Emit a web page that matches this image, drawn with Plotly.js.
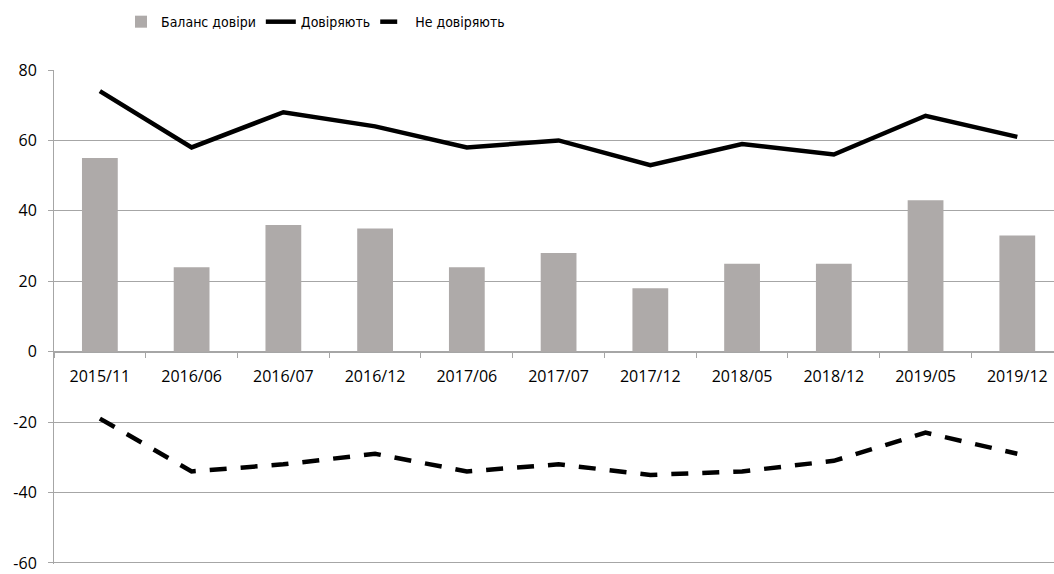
<!DOCTYPE html>
<html>
<head>
<meta charset="utf-8">
<script src="https://cdn.plot.ly/plotly-3.0.1.min.js"></script>
<style>html,body{margin:0;padding:0;background:#fff;}#chart{width:1054px;height:574px;}</style>
</head>
<body>
<div id="chart"></div>
<script>
const categories = ["2015/11","2016/06","2016/07","2016/12","2017/06","2017/07","2017/12","2018/05","2018/12","2019/05","2019/12"];
const balance = [55, 24, 36, 35, 24, 28, 18, 25, 25, 43, 33];
const trust = [74, 58, 68, 64, 58, 60, 53, 59, 56, 67, 61];
const distrust = [-19, -34, -32, -29, -34, -32, -35, -34, -31, -23, -29];
const seriesNames = ["Баланс довіри", "Довіряють", "Не довіряють"];
const yTicks = [-60, -40, -20, 0, 20, 40, 60, 80];
const yTickText = ["-60", "-40", "-20", "0", "20", "40", "60", "80"];

const grid = "#a6a6a6";
const axisFont = {family: "Open Sans, Noto Sans, sans-serif", size: 16, color: "#000"};

const traces = [
  {type: "bar", name: seriesNames[0], x: categories, y: balance,
   marker: {color: "#aeaaa9"}, width: 0.39},
  {type: "scatter", mode: "lines", name: seriesNames[1], x: categories, y: trust,
   line: {color: "#000", width: 4.5}},
  {type: "scatter", mode: "lines", name: seriesNames[2], x: categories, y: distrust,
   line: {color: "#000", width: 4.5, dash: "17px,14px"}}
];

const layout = {
  width: 1054, height: 574,
  margin: {l: 54, r: 0, t: 70, b: 10},
  paper_bgcolor: "#fff", plot_bgcolor: "#fff",
  showlegend: true,
  legend: {orientation: "h", x: 0.067, xanchor: "left", y: 1.097, yanchor: "middle",
    font: {family: "Liberation Sans Narrow, DejaVu Sans Condensed, sans-serif", size: 14, color: "#000"},
    bgcolor: "rgba(0,0,0,0)", traceorder: "normal"},
  xaxis: {type: "category", range: [-0.5, 10.4], anchor: "free", position: 60.3/140.3,
    showline: true, linecolor: grid, linewidth: 1, showgrid: false, zeroline: false,
    ticks: "outside", tickson: "boundaries", ticklen: 5, tickcolor: grid,
    tickfont: axisFont, ticklabelstandoff: 10, fixedrange: true},
  yaxis: {range: [-60.3, 80], tickvals: yTicks, ticktext: yTickText, showgrid: true, gridcolor: grid, gridwidth: 1,
    zeroline: false, showline: true, linecolor: grid, linewidth: 1, ticklabeloverflow: "allow",
    ticks: "outside", ticklen: 5, tickcolor: grid, tickfont: axisFont, ticklabelstandoff: 8},
  bargap: 0.6
};

Plotly.newPlot("chart", traces, layout, {displayModeBar: false, staticPlot: true});
</script>
</body>
</html>
